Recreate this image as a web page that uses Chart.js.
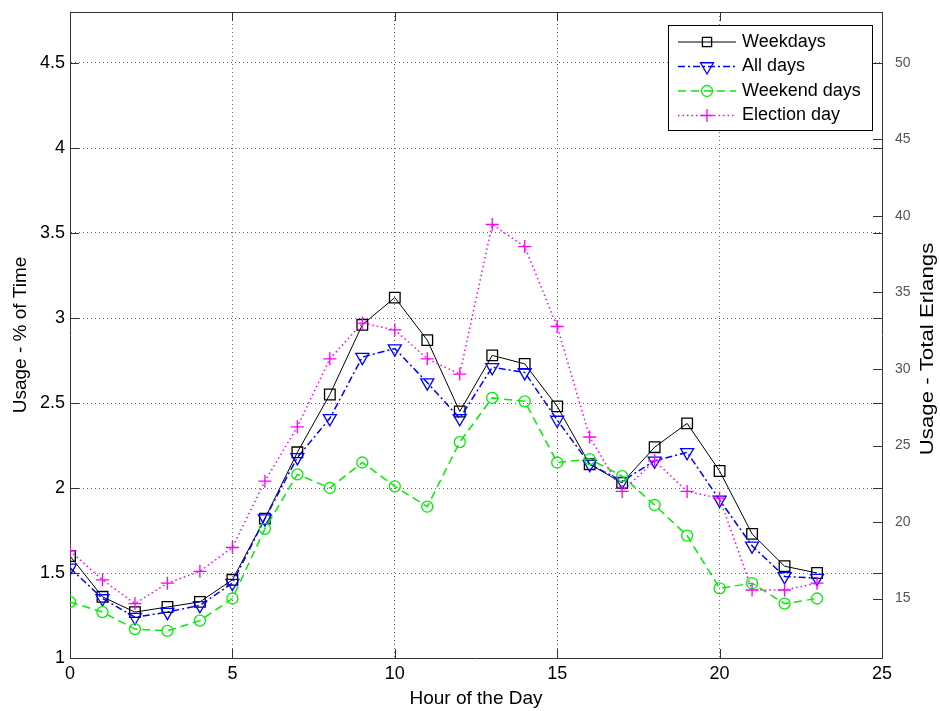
<!DOCTYPE html>
<html>
<head>
<meta charset="utf-8">
<script src="https://cdn.jsdelivr.net/npm/chart.js@4.4.1/dist/chart.umd.min.js"></script>
<style>
  html, body { margin: 0; padding: 0; background: #fff; }
</style>
</head>
<body>
<canvas id="usageChart" width="940" height="711"></canvas>
<script>
const hours = [0, 1, 2, 3, 4, 5, 6, 7, 8, 9, 10, 11, 12, 13, 14, 15, 16, 17, 18, 19, 20, 21, 22, 23];

const weekdays    = [1.60, 1.36, 1.27, 1.30, 1.33, 1.46, 1.82, 2.21, 2.55, 2.96, 3.12, 2.87, 2.45, 2.78, 2.73, 2.48, 2.14, 2.03, 2.24, 2.38, 2.10, 1.73, 1.54, 1.50];
const allDays     = [1.53, 1.35, 1.24, 1.27, 1.31, 1.44, 1.82, 2.18, 2.41, 2.77, 2.82, 2.62, 2.41, 2.71, 2.68, 2.40, 2.14, 2.04, 2.16, 2.21, 1.93, 1.66, 1.48, 1.47];
const weekendDays = [1.33, 1.27, 1.17, 1.16, 1.22, 1.35, 1.76, 2.08, 2.00, 2.15, 2.01, 1.89, 2.27, 2.53, 2.51, 2.15, 2.17, 2.07, 1.90, 1.72, 1.41, 1.44, 1.32, 1.35];
const electionDay = [1.63, 1.46, 1.32, 1.44, 1.51, 1.65, 2.04, 2.36, 2.76, 2.97, 2.93, 2.76, 2.67, 3.55, 3.42, 2.95, 2.30, 1.98, 2.16, 1.98, 1.94, 1.40, 1.40, 1.44];

const seriesNames = ['Weekdays', 'All days', 'Weekend days', 'Election day'];

const xTicks     = [0, 5, 10, 15, 20, 25];
const leftTicks  = [1, 1.5, 2, 2.5, 3, 3.5, 4, 4.5];
const rightTicks = [15, 20, 25, 30, 35, 40, 45, 50];

// % of time -> total Erlangs (right axis is a rescaled copy of the left one)
const percentMin = 1;
const percentMax = 4.8;
const erlangsPerPercent = 100 / 9;

const toPoints = vals => hours.map((h, i) => ({ x: h, y: vals[i] }));

const styles = [
  { color: '#000000', dash: [],            width: 1,   pointStyle: 'rect',     radius: 7.5, rotation: 0 },
  { color: '#0000ff', dash: [7, 3, 2, 3],  width: 1.5, pointStyle: 'triangle', radius: 7.5, rotation: 180 },
  { color: '#00ee00', dash: [8, 5],        width: 1.5, pointStyle: 'circle',   radius: 5.5, rotation: 0 },
  { color: '#ff00ff', dash: [1.5, 3],      width: 1.5, pointStyle: 'cross',    radius: 6.5, rotation: 0 }
];
const seriesData = [weekdays, allDays, weekendDays, electionDay];

const datasets = seriesData.map((vals, i) => ({
  label: seriesNames[i],
  data: toPoints(vals),
  borderColor: styles[i].color,
  borderWidth: styles[i].width,
  borderDash: styles[i].dash,
  pointStyle: styles[i].pointStyle,
  pointRadius: styles[i].radius,
  pointRotation: styles[i].rotation,
  pointBorderColor: styles[i].color,
  pointBackgroundColor: 'rgba(0,0,0,0)',
  pointBorderWidth: 1.3,
  tension: 0,
  fill: false,
  order: 4 - i
}));

const family = "'Liberation Sans', Arial, sans-serif";
const font = { family: family, size: 18 };
const titleFont = { family: family, size: 19 };
const plainNumber = v => String(v);

// fixed axis sizes, and no extra room for half-labels at the ends
const fixSize = (w, h) => scale => {
  if (w) scale.width = w;
  if (h) scale.height = h;
  scale.paddingTop = 0;
  scale.paddingBottom = 0;
  scale.paddingLeft = 0;
  scale.paddingRight = 0;
};

// box, inner tick marks, right axis title and legend
const decorations = {
  id: 'decorations',
  afterDraw(chart) {
    const { ctx, chartArea: a, scales } = chart;
    const len = 9;
    ctx.save();
    ctx.strokeStyle = '#333';
    ctx.lineWidth = 1;
    ctx.setLineDash([]);
    ctx.beginPath();
    ctx.moveTo(a.left, a.top + 0.5);
    ctx.lineTo(a.right, a.top + 0.5);
    xTicks.forEach(v => {
      const px = Math.round(scales.x.getPixelForValue(v)) + 0.5;
      ctx.moveTo(px, a.bottom); ctx.lineTo(px, a.bottom - len);
      ctx.moveTo(px, a.top);    ctx.lineTo(px, a.top + len);
    });
    leftTicks.forEach(v => {
      const py = Math.round(scales.y.getPixelForValue(v)) + 0.5;
      ctx.moveTo(a.left, py);  ctx.lineTo(a.left + len, py);
      ctx.moveTo(a.right, py); ctx.lineTo(a.right - len, py);
    });
    rightTicks.forEach(v => {
      const py = Math.round(scales.y2.getPixelForValue(v)) + 0.5;
      ctx.moveTo(a.right, py); ctx.lineTo(a.right - len, py);
    });
    ctx.stroke();

    // right axis title, reads bottom to top like the left one (wide letter spacing)
    ctx.fillStyle = '#000';
    ctx.font = `${titleFont.size}px ${family}`;
    ctx.textAlign = 'center';
    ctx.textBaseline = 'middle';
    ctx.translate(928, 349);
    ctx.rotate(-Math.PI / 2);
    ctx.scale(1.17, 1);
    ctx.fillText('Usage - Total Erlangs', 0, 0);
    ctx.restore();

    // legend
    const box = { left: 668, top: 25, width: 204, height: 105 };
    ctx.save();
    ctx.fillStyle = '#fff';
    ctx.fillRect(box.left, box.top, box.width, box.height);
    ctx.strokeStyle = '#000';
    ctx.lineWidth = 1;
    ctx.strokeRect(box.left + 0.5, box.top + 0.5, box.width, box.height);
    ctx.font = `${font.size}px ${family}`;
    ctx.textAlign = 'left';
    ctx.textBaseline = 'middle';
    seriesNames.forEach((name, i) => {
      const st = styles[i];
      const y = box.top + 17 + i * 24.5;
      ctx.strokeStyle = st.color;
      ctx.lineWidth = st.width;
      ctx.setLineDash(st.dash);
      ctx.beginPath();
      ctx.moveTo(678, y);
      ctx.lineTo(736, y);
      ctx.stroke();
      ctx.setLineDash([]);
      ctx.lineWidth = 1.3;
      ctx.fillStyle = 'rgba(0,0,0,0)';
      Chart.helpers.drawPoint(ctx, {
        pointStyle: st.pointStyle,
        radius: st.pointStyle === 'rect' ? 6.5 : st.radius,
        rotation: st.rotation,
        borderWidth: 1.3
      }, 707, y);
      ctx.fillStyle = '#000';
      ctx.fillText(name, 742, y);
    });
    ctx.restore();
  }
};

new Chart(document.getElementById('usageChart'), {
  type: 'line',
  data: { datasets: datasets },
  options: {
    responsive: false,
    animation: false,
    layout: { padding: { top: 12, left: 0, right: 0, bottom: 0 } },
    plugins: {
      legend: { display: false },
      tooltip: { enabled: false }
    },
    scales: {
      x: {
        type: 'linear',
        min: 0,
        max: 25,
        afterBuildTicks: scale => { scale.ticks = xTicks.map(v => ({ value: v })); },
        afterFit: fixSize(0, 53),
        grid: { color: '#666', lineWidth: 1, drawTicks: false },
        border: { display: true, color: '#333', width: 1, dash: [1, 3] },
        ticks: { color: '#000', font: font, padding: 5, maxRotation: 0, callback: plainNumber },
        title: { display: true, text: 'Hour of the Day', color: '#000', font: titleFont, padding: { top: 0, bottom: 1 } }
      },
      y: {
        type: 'linear',
        position: 'left',
        min: percentMin,
        max: percentMax,
        afterBuildTicks: scale => { scale.ticks = leftTicks.map(v => ({ value: v })); },
        afterFit: fixSize(70, 0),
        grid: { color: '#666', lineWidth: 1, drawTicks: false },
        border: { display: true, color: '#333', width: 1, dash: [1, 3] },
        ticks: { color: '#000', font: font, padding: 5, callback: plainNumber },
        title: { display: true, text: 'Usage - % of Time', color: '#000', font: titleFont, padding: { top: 9, bottom: 0 } }
      },
      y2: {
        type: 'linear',
        position: 'right',
        min: percentMin * erlangsPerPercent,
        max: percentMax * erlangsPerPercent,
        afterBuildTicks: scale => { scale.ticks = rightTicks.map(v => ({ value: v })); },
        afterFit: fixSize(58, 0),
        grid: { display: false, drawTicks: false },
        border: { display: true, color: '#333', width: 1 },
        ticks: { color: '#555', font: { family: family, size: 14 }, padding: 13, callback: plainNumber }
      }
    }
  },
  plugins: [decorations]
});
</script>
</body>
</html>
